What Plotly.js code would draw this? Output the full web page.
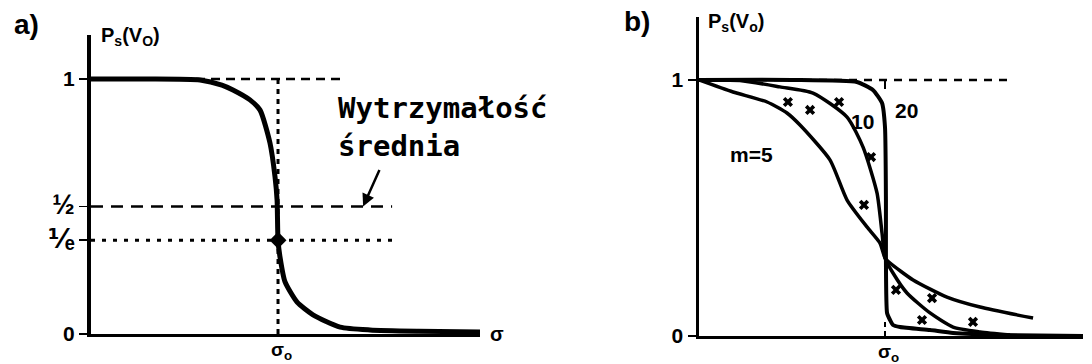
<!DOCTYPE html>
<html>
<head>
<meta charset="utf-8">
<script src="https://cdn.plot.ly/plotly-3.0.1.min.js"></script>
<style>
  html, body { margin: 0; padding: 0; background: #fff; }
  #chart { width: 1092px; height: 364px; }
</style>
</head>
<body>
<div id="chart"></div>
<script>
// ---- Panel a: survival probability vs. stress (sigma / sigma0) ----
const sigmaA = [0, 0.30, 0.583, 0.70, 0.759, 0.85, 0.904, 0.957, 0.984, 0.995, 1.0, 1.011, 1.037, 1.102, 1.187, 1.332, 1.492, 1.75, 2.08];
const probA  = [1, 1, 0.996, 0.976, 0.957, 0.918, 0.878, 0.749, 0.616, 0.525, 0.368, 0.30, 0.205, 0.125, 0.075, 0.027, 0.016, 0.011, 0.008];

// reference levels and marked point
const sigma0 = 1;
const levelOne = 1;
const levelHalf = 0.5;
const levelInvE = 1 / Math.E;
const oneLineEndA = 1.358;
const levelLineEndA = 1.61;
const arrowTipA = 1.455;

// ---- Panel b: curves for Weibull modulus m = 5, 10, 20 ----
const sigmaM5  = [0, 0.183, 0.366, 0.473, 0.543, 0.704, 0.796, 0.903, 0.973, 1.0, 1.027, 1.151, 1.333, 1.511, 1.796];
const probM5   = [1, 0.953, 0.914, 0.871, 0.824, 0.688, 0.531, 0.426, 0.363, 0.305, 0.285, 0.219, 0.152, 0.113, 0.070];
const sigmaM10 = [0, 0.22, 0.435, 0.613, 0.796, 0.882, 0.957, 0.984, 1.0, 1.043, 1.118, 1.242, 1.366, 1.511, 1.672];
const probM10  = [1, 0.998, 0.973, 0.949, 0.855, 0.738, 0.559, 0.402, 0.305, 0.246, 0.168, 0.090, 0.035, 0.016, 0.004];
const sigmaM20 = [0, 0.5, 0.849, 0.935, 0.984, 1.0, 1.005, 1.005, 1.011, 1.027, 1.043, 1.081, 1.242, 1.366, 1.618, 2.065];
const probM20  = [1, 1, 0.992, 0.961, 0.910, 0.816, 0.531, 0.297, 0.090, 0.0625, 0.043, 0.035, 0.023, 0.012, 0.004, 0.0];

// measured points
const sigmaPts = [0.478, 0.597, 0.753, 0.925, 0.887, 1.059, 1.253, 1.199, 1.473];
const probPts  = [0.914, 0.883, 0.914, 0.699, 0.512, 0.180, 0.148, 0.0625, 0.055];

const oneLineEndB = 1.672;

const W = 1092, H = 364;
const px = x => x / W;
const py = y => 1 - y / H;

const black = '#000';
const sans = 'Liberation Sans, DejaVu Sans, sans-serif';
const labelFont = { family: sans, size: 21, color: black, weight: 'bold' };
const big = s => '<span style="font-size:27px">' + s + '</span>';

const traces = [
  // panel a guide lines
  { x: [0, oneLineEndA], y: [levelOne, levelOne], xaxis: 'x', yaxis: 'y', mode: 'lines',
    line: { color: black, width: 2.5, dash: '9px,6px' } },
  { x: [0, levelLineEndA], y: [levelHalf, levelHalf], xaxis: 'x', yaxis: 'y', mode: 'lines',
    line: { color: black, width: 2.5, dash: '12px,8px' } },
  { x: [0, levelLineEndA], y: [levelInvE, levelInvE], xaxis: 'x', yaxis: 'y', mode: 'lines',
    line: { color: black, width: 3, dash: '4px,7px' } },
  { x: [sigma0, sigma0], y: [0, levelOne], xaxis: 'x', yaxis: 'y', mode: 'lines',
    line: { color: black, width: 3, dash: '5px,5px' } },
  // panel a curve
  { x: sigmaA, y: probA, xaxis: 'x', yaxis: 'y', mode: 'lines',
    line: { color: black, width: 5, shape: 'spline', smoothing: 0.6 } },
  { x: [sigma0], y: [levelInvE], xaxis: 'x', yaxis: 'y', mode: 'markers',
    marker: { symbol: 'diamond', size: 13, color: black } },

  // panel b guide lines
  { x: [0, oneLineEndB], y: [levelOne, levelOne], xaxis: 'x2', yaxis: 'y2', mode: 'lines',
    line: { color: black, width: 2.5, dash: '8px,7px' } },
  { x: [sigma0, sigma0], y: [levelOne, 0.965], xaxis: 'x2', yaxis: 'y2', mode: 'lines',
    line: { color: black, width: 2 } },
  { x: [sigma0, sigma0], y: [0, 0.07], xaxis: 'x2', yaxis: 'y2', mode: 'lines',
    line: { color: black, width: 2, dash: '5px,4px' } },
  // panel b curves
  { x: sigmaM20, y: probM20, xaxis: 'x2', yaxis: 'y2', mode: 'lines',
    line: { color: black, width: 4, shape: 'spline', smoothing: 0.5 } },
  { x: sigmaM10, y: probM10, xaxis: 'x2', yaxis: 'y2', mode: 'lines',
    line: { color: black, width: 3.5, shape: 'spline', smoothing: 0.6 } },
  { x: sigmaM5, y: probM5, xaxis: 'x2', yaxis: 'y2', mode: 'lines',
    line: { color: black, width: 3.5, shape: 'spline', smoothing: 0.6 } },
  { x: sigmaPts, y: probPts, xaxis: 'x2', yaxis: 'y2', mode: 'markers',
    marker: { symbol: 'x', size: 9, color: black } }
];

const axisCommon = {
  showgrid: false, zeroline: false, showline: true, linecolor: black,
  tickcolor: black, tickfont: labelFont, fixedrange: true
};

const layout = {
  width: W, height: H,
  margin: { l: 0, r: 0, t: 0, b: 0 },
  paper_bgcolor: '#fff', plot_bgcolor: '#fff',
  showlegend: false,
  xaxis: Object.assign({}, axisCommon, {
    domain: [px(91), px(480)], range: [0, 2.08], anchor: 'y',
    linewidth: 3, ticks: '', showticklabels: false
  }),
  yaxis: Object.assign({}, axisCommon, {
    domain: [py(334), py(35)], range: [0, 1.1725], anchor: 'x',
    linewidth: 4, ticks: 'outside', ticklen: 8, tickwidth: 1.5,
    tickvals: [0, levelInvE, levelHalf, levelOne], ticktext: ['0', big('⅟ₑ'), big('½'), '1']
  }),
  xaxis2: Object.assign({}, axisCommon, {
    domain: [px(699), px(1083)], range: [0, 2.0645], anchor: 'y2',
    linewidth: 3, ticks: '', showticklabels: false
  }),
  yaxis2: Object.assign({}, axisCommon, {
    domain: [py(336), py(17)], range: [0, 1.246], anchor: 'x2',
    linewidth: 3.5, ticks: 'outside', ticklen: 8, tickwidth: 1.5,
    tickvals: [0, levelOne], ticktext: ['0', '1']
  })
};

const ann = (x, y, text, size, extra) => Object.assign({
  xref: 'paper', yref: 'paper', x: px(x), y: py(y), text: text, showarrow: false,
  xanchor: 'center', yanchor: 'middle',
  font: { family: sans, size: size, color: black, weight: 'bold' }
}, extra || {});

layout.annotations = [
  ann(26, 25, 'a)', 28),
  ann(637, 21, 'b)', 28),
  ann(99, 37, 'P<sub>s</sub>(V<sub>O</sub>)', 20, { xanchor: 'left' }),
  ann(706, 22, 'P<sub>s</sub>(V<sub>o</sub>)', 20, { xanchor: 'left' }),
  ann(497, 334, 'σ', 20),
  ann(336, 127, 'Wytrzymałość<br>średnia', 29, {
    xanchor: 'left', align: 'left',
    font: { family: 'DejaVu Sans Mono, monospace', size: 29, color: black, weight: 'bold' }
  }),
  { xref: 'x', yref: 'y', x: arrowTipA, y: levelHalf, text: '', showarrow: true,
    ax: 17, ay: -38, arrowhead: 2, arrowsize: 1, arrowwidth: 2.5, arrowcolor: black },
  // sigma0 labels under both horizontal axes
  { xref: 'x', yref: 'paper', x: sigma0, y: py(351), text: 'σ<sub>o</sub>', showarrow: false,
    xanchor: 'left', yanchor: 'middle', xshift: -9,
    font: { family: sans, size: 19, color: black, weight: 'bold' } },
  { xref: 'x2', yref: 'paper', x: sigma0, y: py(353), text: 'σ<sub>o</sub>', showarrow: false,
    xanchor: 'left', yanchor: 'middle', xshift: -9,
    font: { family: sans, size: 19, color: black, weight: 'bold' } },
  ann(893, 110, '20', 21, { xanchor: 'left' }),
  ann(849, 122, '10', 21, { xanchor: 'left' }),
  ann(728, 154, 'm=5', 21, { xanchor: 'left' })
];

Plotly.newPlot('chart', traces, layout, { staticPlot: true, displayModeBar: false });
</script>
</body>
</html>
